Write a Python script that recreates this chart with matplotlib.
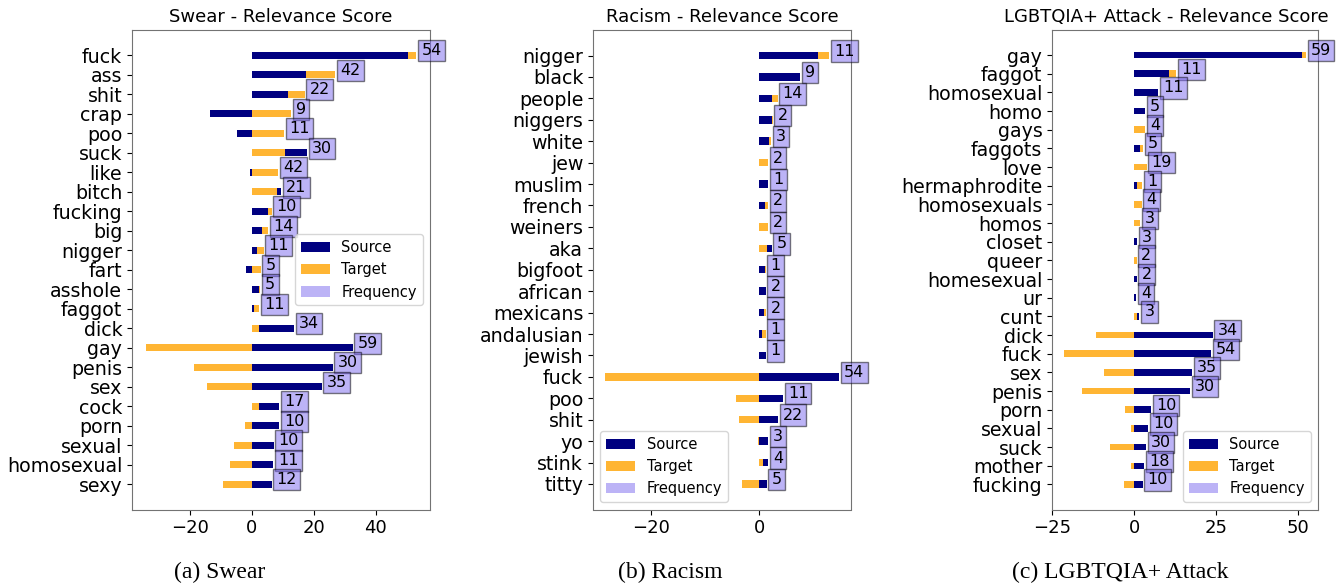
import matplotlib
matplotlib.use("Agg")
import matplotlib.pyplot as plt
from matplotlib.patches import Patch
import numpy as np

# ---------------- data ----------------
swear_words = ["fuck", "ass", "shit", "crap", "poo", "suck", "like", "bitch", "fucking", "big",
               "nigger", "fart", "asshole", "faggot", "dick", "gay", "penis", "sex", "cock",
               "porn", "sexual", "homosexual", "sexy"]
swear_source = [50.5, 17.4, 11.8, -13.5, -4.8, 17.9, -0.4, 9.6, 5.3, 3.4,
                1.6, -1.9, 2.3, 0.6, 13.7, 32.5, 26.1, 22.6, 8.9,
                8.9, 7.1, 6.9, 6.4]
swear_target = [53.1, 27.0, 17.1, 12.7, 10.5, 10.9, 8.6, 8.3, 6.4, 5.3,
                3.9, 2.9, 2.8, 2.5, 2.5, -34.2, -18.5, -14.4, 2.5,
                -2.1, -5.6, -7.0, -9.4]
swear_freq = [54, 42, 22, 9, 11, 30, 42, 21, 10, 14,
              11, 5, 5, 11, 34, 59, 30, 35, 17,
              10, 10, 11, 12]

racism_words = ["nigger", "black", "people", "niggers", "white", "jew", "muslim", "french",
                "weiners", "aka", "bigfoot", "african", "mexicans", "andalusian", "jewish",
                "fuck", "poo", "shit", "yo", "stink", "titty"]
racism_source = [10.8, 7.6, 2.4, 2.3, 1.8, 0.0, 1.7, 1.0,
                 0.0, 2.3, 1.0, 1.2, 0.9, 0.6, 1.2,
                 14.8, 4.4, 3.5, 1.7, 1.7, 1.4]
racism_target = [12.9, 0.0, 3.4, 2.5, 2.2, 1.7, 0.0, 1.7,
                 1.7, 1.4, 1.2, 0.0, 1.2, 1.2, 0.0,
                 -28.5, -4.2, -3.7, -0.2, 0.7, -3.2]
racism_freq = [11, 9, 14, 2, 3, 2, 1, 2,
               2, 5, 1, 2, 2, 1, 1,
               54, 11, 22, 3, 4, 5]

lgbt_words = ["gay", "faggot", "homosexual", "homo", "gays", "faggots", "love", "hermaphrodite",
              "homosexuals", "homos", "closet", "queer", "homesexual", "ur", "cunt",
              "dick", "fuck", "sex", "penis", "porn", "sexual", "suck", "mother", "fucking"]
lgbt_source = [51.3, 10.5, 7.4, 3.3, 0.0, 1.9, 0.0, 1.0,
               0.0, 0.0, 0.9, 0.0, 0.8, 0.6, 1.6,
               23.9, 23.4, 17.7, 17.0, 5.1, 4.3, 3.6, 3.1, 2.6]
lgbt_target = [52.4, 12.8, 0.0, 0.0, 3.3, 2.7, 3.8, 2.5,
               2.3, 1.9, 0.0, 0.7, 0.0, 0.0, 1.0,
               -11.6, -21.4, -9.1, -15.9, -2.8, -1.1, -7.4, -1.1, -3.0]
lgbt_freq = [59, 11, 11, 5, 4, 5, 19, 1,
             4, 3, 3, 2, 2, 4, 3,
             34, 54, 35, 30, 10, 10, 30, 18, 10]

titles = ["Swear - Relevance Score", "Racism - Relevance Score", "LGBTQIA+ Attack - Relevance Score"]
captions = ["(a) Swear", "(b) Racism", "(c) LGBTQIA+ Attack"]
legend_locs = ["center right", "lower left", "lower right"]

# ---------------- style ----------------
SRC_COLOR = "navy"
TGT_COLOR = "#FFB533"
FREQ_COLOR = "mediumslateblue"
FREQ_ALPHA = 0.5

W, H = 1341, 587
fig = plt.figure(figsize=(W / 100, H / 100), dpi=100)

axes_px = [(132, 430), (593, 851), (1052, 1318)]
top_px, bot_px = 30, 509.5
caption_x = [220, 670, 1120]
title_x = [0.5, 0.5, 0.43]

panels = [(swear_words, swear_source, swear_target, swear_freq),
          (racism_words, racism_source, racism_target, racism_freq),
          (lgbt_words, lgbt_source, lgbt_target, lgbt_freq)]

for k, (words, src, tgt, freq) in enumerate(panels):
    l, r = axes_px[k]
    ax = fig.add_axes([l / W, (H - bot_px) / H, (r - l) / W, (bot_px - top_px) / H])
    y = np.arange(len(words))
    h = 0.35
    sb = ax.barh(y, src, height=h, color=SRC_COLOR, label="Source")
    tb = ax.barh(y, tgt, height=h, color=TGT_COLOR, label="Target")
    # smaller magnitude bar drawn on top
    for i in range(len(words)):
        if abs(src[i]) <= abs(tgt[i]):
            sb.patches[i].set_zorder(3)
            tb.patches[i].set_zorder(2)
        else:
            sb.patches[i].set_zorder(2)
            tb.patches[i].set_zorder(3)
    for i in range(len(words)):
        xend = max(src[i], tgt[i], 0)
        ax.annotate(str(freq[i]), xy=(xend, y[i]), xytext=(3.5, 0),
                    textcoords="offset points", ha="left", va="baseline",
                    fontsize=11.5, zorder=5, annotation_clip=False,
                    bbox=dict(boxstyle="square,pad=0.2", facecolor=FREQ_COLOR,
                              edgecolor="black", alpha=FREQ_ALPHA, linewidth=1))
    ax.set_yticks(y)
    ax.set_yticklabels(words)
    ax.invert_yaxis()
    ax.tick_params(axis="y", labelsize=13.7)
    ax.tick_params(axis="x", labelsize=13)
    ax.set_title(titles[k], fontsize=13, x=title_x[k])
    for sp in ax.spines.values():
        sp.set_color("0.45")
    handles = [sb, tb, Patch(facecolor=FREQ_COLOR, alpha=FREQ_ALPHA, label="Frequency")]
    ax.legend(handles=handles, labels=["Source", "Target", "Frequency"],
              loc=legend_locs[k], fontsize=10.5)
    fig.text(caption_x[k] / W, 1 - 572 / H, captions[k], ha="center", va="center",
             fontsize=17, family="Liberation Serif")

fig.savefig("out.png", dpi=100)
